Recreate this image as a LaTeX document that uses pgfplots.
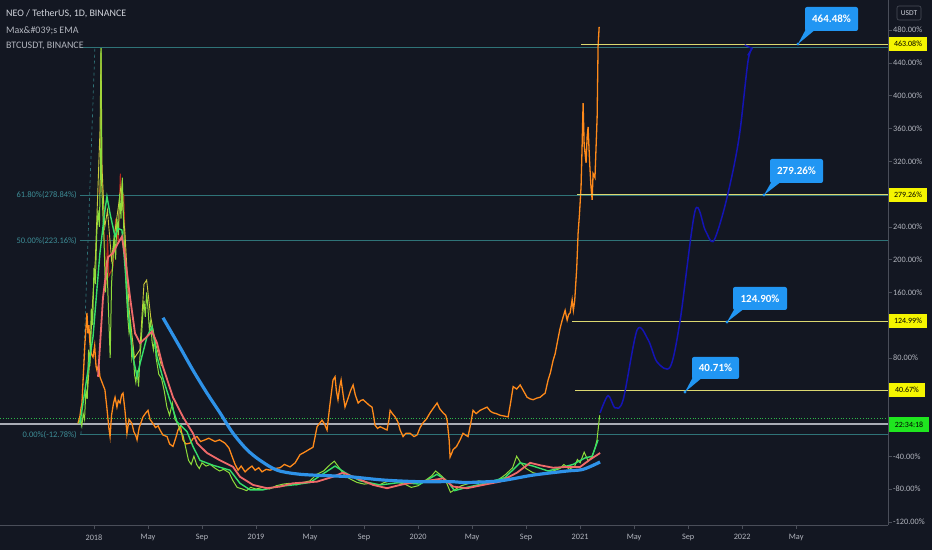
\documentclass[border=0pt]{standalone}
\usepackage{fontspec}
\setmainfont{Carlito}
\usepackage{pgfplots}
\pgfplotsset{compat=1.18}
\usetikzlibrary{arrows.meta}
\definecolor{bg}{HTML}{131722}
\definecolor{axisc}{HTML}{4A4E59}
\definecolor{txt}{HTML}{B2B5BE}
\definecolor{legw}{HTML}{D1D4DC}
\definecolor{fibc}{HTML}{2F7378}
\definecolor{fibt}{HTML}{3E8E98}
\definecolor{yel}{HTML}{DCD870}
\definecolor{yelbox}{HTML}{F5F500}
\definecolor{callout}{HTML}{2196F3}
\definecolor{btc}{HTML}{FF8A1A}
\definecolor{neo}{HTML}{8EDC3A}
\definecolor{neoy}{HTML}{C9C93A}
\definecolor{neored}{HTML}{B3261E}
\definecolor{fastema}{HTML}{36E06A}
\definecolor{slowema}{HTML}{F06A6A}
\definecolor{longema}{HTML}{2E92E8}
\definecolor{navyl}{HTML}{1414B4}
\definecolor{greendot}{HTML}{2EB84A}
\definecolor{greybar}{HTML}{A9ACB5}
\definecolor{greenbox}{HTML}{1FE61F}
\begin{document}
\begin{tikzpicture}
\fill[bg] (0,-25bp) rectangle (932bp,525bp);
\begin{axis}[
  at={(0,0)}, anchor=south west,
  width=888bp, height=525bp, scale only axis,
  xmin=-6.96, xmax=58.8, ymin=-123.9, ymax=516.8,
  axis x line*=bottom, axis y line*=right,
  axis line style={draw=axisc, line width=0.8bp},
  tick style={draw=axisc, line width=0.6bp},
  tick align=outside, major tick length=4bp,
  xtick={0,4,8,12,16,20,24,28,32,36,40,44,48,52},
  xticklabels={2018,May,Sep,2019,May,Sep,2020,May,Sep,2021,May,Sep,2022,May},
  ytick={-120,-80,-40,80,160,200,240,320,360,400,440,480},
  yticklabels={-120.00\%,-80.00\%,-40.00\%,80.00\%,160.00\%,200.00\%,240.00\%,320.00\%,360.00\%,400.00\%,440.00\%,480.00\%},
  tick label style={font=\fontsize{8.3}{9}\selectfont, text=txt},
  yticklabel style={anchor=west, inner sep=1bp},
  xticklabel style={yshift=-2bp},
  every axis plot/.append style={no markers},
  clip=true,
]
% Fibonacci levels
\addplot[fibc, line width=0.8bp] coordinates {(-1.04,459.1) (58.8,459.1)};
\addplot[fibc, line width=0.8bp] coordinates {(-1.04,278.84) (58.8,278.84)};
\addplot[fibc, line width=0.8bp] coordinates {(-1.04,223.16) (58.8,223.16)};
\addplot[fibc, line width=0.8bp] coordinates {(-1.04,-12.78) (58.8,-12.78)};
\addplot[fibc, dashed, line width=0.7bp] coordinates {(-0.96,-12.78) (0.07,459.1)};
% price lines
\addplot[greybar, line width=1.6bp] coordinates {(-6.96,-0.6) (58.8,-0.6)};
\addplot[greendot, dotted, line width=0.8bp] coordinates {(-6.96,5.6) (58.8,5.6)};
% BTCUSDT
\addplot[btc, line width=1.3bp] coordinates {
(-1.19,0) (-1.05,8) (-0.95,20) (-0.89,25) (-0.80,55) (-0.67,98) (-0.60,115) (-0.52,135)
(-0.45,110) (-0.38,120) (-0.30,98) (-0.20,85) (-0.07,81) (0.05,95) (0.15,70) (0.22,65)
(0.35,72) (0.44,57) (0.60,50) (0.81,41) (0.95,20) (1.10,-5) (1.19,-16) (1.30,10)
(1.45,25) (1.56,32) (1.70,20) (1.80,28) (1.93,25) (2.05,35) (2.15,37) (2.30,15)
(2.44,-12) (2.60,5) (2.81,0) (2.95,-10) (3.10,-15) (3.19,-20) (3.35,-5) (3.50,2)
(3.63,8) (3.80,12) (4.00,16) (4.15,5) (4.37,0) (4.55,-5) (4.75,-3) (4.89,-8)
(5.10,-14) (5.41,-16) (5.60,-25) (5.85,-28) (6.05,-18) (6.22,-8) (6.40,-3) (6.59,-20)
(6.80,-25) (7.11,-24) (7.35,-18) (7.63,-16) (7.90,-22) (8.22,-20) (8.50,-18) (8.96,-22)
(9.30,-20) (9.70,-24) (10.0,-30) (10.22,-40) (10.45,-50) (10.67,-57) (10.90,-52) (11.19,-59)
(11.45,-55) (11.70,-52) (11.93,-57) (12.20,-54) (12.44,-59) (12.75,-56) (13.04,-57) (13.40,-55)
(13.78,-54) (14.10,-50) (14.52,-53) (14.90,-48) (15.26,-38) (15.60,-35) (15.90,-32) (16.22,-29)
(16.52,-4) (16.70,0) (16.89,4) (17.05,0) (17.26,-8) (17.45,20) (17.70,53) (17.85,57)
(17.95,40) (18.07,29) (18.20,45) (18.30,53) (18.45,35) (18.59,20) (18.80,30) (19.00,40)
(19.19,47) (19.35,35) (19.56,25) (19.75,28) (19.93,29) (20.20,25) (20.40,22) (20.59,20)
(20.70,10) (20.81,-2) (21.00,-6) (21.19,-4) (21.45,-6) (21.70,-8) (21.85,5) (21.93,16)
(22.10,12) (22.30,8) (22.50,2) (22.67,-8) (22.89,-16) (23.10,-12) (23.41,-12) (23.70,-16)
(23.93,-14) (24.15,-5) (24.37,1) (24.60,5) (24.89,13) (25.10,18) (25.41,25) (25.60,18)
(25.85,13) (26.05,10) (26.15,4) (26.30,-20) (26.37,-41) (26.50,-36) (26.59,-32) (26.85,-28)
(27.11,-20) (27.33,-12) (27.50,-14) (27.70,-16) (27.90,0) (28.07,16) (28.30,12) (28.59,16)
(28.85,18) (29.11,20) (29.35,15) (29.56,13) (29.80,12) (30.07,10) (30.40,9) (30.67,8)
(30.85,25) (31.04,45) (31.30,42) (31.56,47) (31.80,40) (32.07,32) (32.30,30) (32.52,29)
(32.80,31) (33.04,32) (33.25,35) (33.41,37) (33.63,53) (33.80,62) (34.00,77) (34.15,85)
(34.30,98) (34.50,115) (34.67,126) (34.89,138) (35.04,126) (35.15,133) (35.26,135) (35.41,151)
(35.50,138) (35.60,150) (35.75,190) (35.85,232) (35.95,255) (36.07,289) (36.15,340) (36.22,391)
(36.30,340) (36.44,318) (36.52,350) (36.59,362) (36.70,320) (36.80,290) (36.89,273) (36.96,305)
(37.10,300) (37.26,374) (37.33,460) (37.41,484)
};
% NEO wicks (red)
\addplot[neored, line width=1bp] coordinates {
(0.40,280) (0.50,300) (0.52,440) (0.55,330) (0.70,250) (0.90,170) (1.00,230) (1.10,180)
(1.40,190) (1.60,250) (1.80,220) (1.95,305) (2.05,260) (2.20,280) (2.35,200) (2.50,150)
(2.70,120) (3.00,70)
};
% NEO highs (yellow)
\addplot[neoy, line width=0.9bp] coordinates {
(-0.5,35) (-0.3,80) (-0.1,150) (0.1,200) (0.3,290) (0.45,360) (0.52,458) (0.6,310)
(0.8,240) (1.0,260) (1.3,200) (1.6,240) (1.85,270) (2.0,290) (2.3,230) (2.6,140)
(3.0,80) (3.4,90) (3.7,170) (3.9,175) (4.2,130) (4.6,95) (5.0,70)
};
% NEO price
\addplot[neo, line width=1bp] coordinates {
(-1.15,0) (-1.0,5) (-0.9,-3) (-0.8,12) (-0.7,5) (-0.6,40) (-0.5,30) (-0.4,90)
(-0.3,70) (-0.2,140) (-0.1,120) (0.0,190) (0.1,170) (0.2,230) (0.3,260) (0.4,240)
(0.5,330) (0.52,458) (0.55,300) (0.65,260) (0.75,220) (0.85,160) (0.95,200) (1.05,150)
(1.2,80) (1.3,170) (1.4,200) (1.5,230) (1.6,200) (1.7,250) (1.8,230) (1.9,280)
(2.0,250) (2.1,300) (2.2,240) (2.3,200) (2.4,160) (2.5,130) (2.6,110) (2.7,120)
(2.8,80) (2.9,90) (3.0,60) (3.1,50) (3.2,65) (3.3,45) (3.4,80) (3.5,100)
(3.6,130) (3.7,150) (3.8,130) (3.9,160) (4.0,140) (4.1,115) (4.2,125) (4.3,100)
(4.4,90) (4.5,105) (4.6,80) (4.8,60) (5.0,55) (5.2,40) (5.4,20) (5.6,10)
(5.8,25) (6.0,5) (6.2,0) (6.4,-10) (6.6,-15) (6.8,-30) (7.0,-45) (7.2,-50)
(7.4,-40) (7.6,-50) (7.8,-55) (8.0,-48) (8.3,-52) (8.6,-50) (9.0,-55) (9.3,-58)
(9.6,-56) (10.0,-60) (10.3,-70) (10.6,-78) (11.0,-80) (11.3,-82) (11.6,-78) (12.0,-80)
(12.5,-78) (13.0,-80) (13.5,-76) (14.0,-74) (14.5,-73) (15.0,-75) (15.5,-72) (16.0,-70)
(16.5,-62) (17.0,-58) (17.5,-50) (17.8,-46) (18.2,-55) (18.6,-64) (19.0,-68) (19.5,-72)
(20.0,-74) (20.5,-73) (21.0,-76) (21.5,-72) (22.0,-70) (22.5,-72) (23.0,-74) (23.5,-78)
(24.0,-76) (24.5,-70) (25.0,-64) (25.3,-58) (25.6,-62) (26.0,-68) (26.4,-84) (26.8,-80)
(27.2,-76) (27.6,-74) (28.0,-72) (28.5,-70) (29.0,-72) (29.5,-71) (30.0,-68) (30.5,-62)
(31.0,-54) (31.3,-40) (31.6,-48) (32.0,-55) (32.5,-60) (33.0,-62) (33.5,-60) (34.0,-58)
(34.5,-55) (34.8,-50) (35.2,-56) (35.6,-52) (35.8,-44) (36.0,-48) (36.3,-35) (36.6,-46)
(36.9,-40) (37.1,-30) (37.25,-20) (37.35,-5) (37.45,10)
};
% fast EMA
\addplot[fastema, line width=1.4bp] coordinates {
(-1.04,0) (-0.07,106) (0.44,208) (0.81,260) (0.96,277) (1.19,256) (1.56,228) (1.78,238)
(2.07,236) (2.30,191) (2.52,139) (2.89,81) (3.19,57) (3.41,73) (3.93,106) (4.30,118)
(4.67,81) (5.11,55) (5.63,28) (6.15,2) (6.89,-10) (7.33,-28) (7.85,-45) (8.81,-51)
(10.07,-57) (10.81,-73) (11.56,-81) (12.52,-81) (13.56,-77) (14.74,-75) (16.0,-72) (17.1,-60)
(17.85,-52) (18.6,-60) (19.7,-70) (21.2,-75) (22.67,-72) (24.15,-74) (25.4,-62) (26.15,-70)
(26.7,-82) (27.6,-78) (28.96,-73) (30.44,-66) (31.56,-48) (32.52,-52) (33.63,-58) (34.52,-54)
(35.48,-50) (36.37,-42) (36.89,-40) (37.33,-20)
};
% slow EMA
\addplot[slowema, line width=1.8bp] coordinates {
(0.30,57) (0.67,154) (1.04,203) (1.41,208) (1.78,220) (2.07,228) (2.30,203) (2.67,154)
(3.04,110) (3.41,98) (3.93,106) (4.30,112) (4.67,98) (5.11,69) (5.85,32) (6.59,8)
(7.33,-12) (7.63,-24) (8.37,-36) (9.33,-45) (10.30,-53) (10.81,-65) (11.78,-75) (12.81,-79)
(13.78,-77) (14.74,-73) (16.52,-71) (17.70,-65) (18.44,-60) (19.48,-67) (20.67,-75) (21.70,-79)
(22.67,-75) (23.93,-71) (25.11,-69) (25.85,-67) (26.59,-77) (27.63,-79) (28.81,-75) (30.07,-71)
(31.33,-60) (32.30,-48) (33.04,-51) (34.0,-54) (35.04,-53) (36.0,-53) (36.74,-44) (37.48,-36)
};
% long EMA
\addplot[longema, line width=3.2bp, smooth] coordinates {
(5.11,129) (6.37,93) (7.33,65) (8.37,37) (9.33,13) (10.30,-12) (11.33,-32) (12.30,-45)
(13.56,-57) (15.26,-62) (17.70,-64) (18.96,-65) (21.41,-69) (23.93,-71) (26.37,-71) (27.63,-72)
(30.07,-70) (32.52,-63) (35.04,-58) (36.22,-56) (37.48,-47)
};
% target levels
\addplot[yel, line width=1bp] coordinates {(36.07,463.08) (58.8,463.08)};
\addplot[yel, line width=1bp] coordinates {(35.78,279.26) (58.8,279.26)};
\addplot[yel, line width=1bp] coordinates {(35.41,124.99) (58.8,124.99)};
\addplot[yel, line width=1bp] coordinates {(35.63,40.67) (58.8,40.67)};
% projection
\addplot[navyl, line width=1.5bp, smooth, -{Straight Barb[length=6bp,width=11bp]}] coordinates {
(37.48,13) (38.07,34) (38.59,19) (39.19,29) (40.22,114) (41.04,102) (41.70,75) (42.67,69)
(43.41,126) (44.52,260) (45.26,236) (45.85,222) (46.59,257) (47.33,309) (47.85,358) (48.44,443) (48.81,458)
};
\end{axis}
\begin{scope}[x=1bp,y=-1bp,yshift=525bp]
% legend
\node[anchor=west, text=legw, font=\fontsize{10}{11}\selectfont, inner sep=0] at (6,14) {NEO / TetherUS, 1D, BINANCE};
\node[anchor=west, text=txt, font=\fontsize{10}{11}\selectfont, inner sep=0] at (6,31) {Max\&\#039;s EMA};
\node[anchor=west, text=txt, font=\fontsize{10}{11}\selectfont, inner sep=0] at (6,46) {BTCUSDT, BINANCE};
% fib labels
\node[anchor=east, text=fibt, font=\fontsize{8.5}{9}\selectfont, inner sep=0] at (77,195) {61.80\%(278.84\%)};
\node[anchor=east, text=fibt, font=\fontsize{8.5}{9}\selectfont, inner sep=0] at (77,241) {50.00\%(223.16\%)};
\node[anchor=east, text=fibt, font=\fontsize{8.5}{9}\selectfont, inner sep=0] at (77,435) {0.00\%(-12.78\%)};
% callouts
\fill[callout, rounded corners=2bp] (805,7) rectangle (858,31);
\fill[callout] (798,44) -- (806,29) -- (816,29) -- cycle;
\fill[callout] (798,44) circle (1.6);
\node[text=white, font=\bfseries\fontsize{11}{12}\selectfont] at (831.5,19) {464.48\%};
\fill[callout, rounded corners=2bp] (770,159) rectangle (823,183);
\fill[callout] (764,195) -- (772,181) -- (782,181) -- cycle;
\fill[callout] (764,195) circle (1.6);
\node[text=white, font=\bfseries\fontsize{11}{12}\selectfont] at (796.5,171) {279.26\%};
\fill[callout, rounded corners=2bp] (733,287) rectangle (787,310);
\fill[callout] (727,322) -- (735,308) -- (745,308) -- cycle;
\fill[callout] (727,322) circle (1.6);
\node[text=white, font=\bfseries\fontsize{11}{12}\selectfont] at (760,298.5) {124.90\%};
\fill[callout, rounded corners=2bp] (692,357) rectangle (739,379);
\fill[callout] (685,392) -- (693,377) -- (703,377) -- cycle;
\fill[callout] (685,392) circle (1.6);
\node[text=white, font=\bfseries\fontsize{11}{12}\selectfont] at (715.5,368) {40.71\%};
% right price labels
\fill[yelbox] (889,37) rectangle (927,51);
\node[text=black, font=\fontsize{8}{9}\selectfont] at (908,44) {463.08\%};
\fill[yelbox] (889,187.7) rectangle (927,201.7);
\node[text=black, font=\fontsize{8}{9}\selectfont] at (908,194.7) {279.26\%};
\fill[yelbox] (889,314.2) rectangle (927,328.2);
\node[text=black, font=\fontsize{8}{9}\selectfont] at (908,321.2) {124.99\%};
\fill[yelbox] (889,383.3) rectangle (925,397.3);
\node[text=black, font=\fontsize{8}{9}\selectfont] at (907,390.3) {40.67\%};
\fill[greenbox] (889,417) rectangle (929,432);
\node[text=black, font=\fontsize{8}{9}\selectfont] at (909,424.5) {22:34:18};
% USDT box
\draw[axisc, rounded corners=2bp, line width=0.6bp] (897,6) rectangle (921,20);
\node[text=legw, font=\fontsize{7.5}{8}\selectfont] at (909,13) {USDT};
\end{scope}
\pgfresetboundingbox
\useasboundingbox (0,-25bp) rectangle (932bp,525bp);
\end{tikzpicture}
\end{document}
